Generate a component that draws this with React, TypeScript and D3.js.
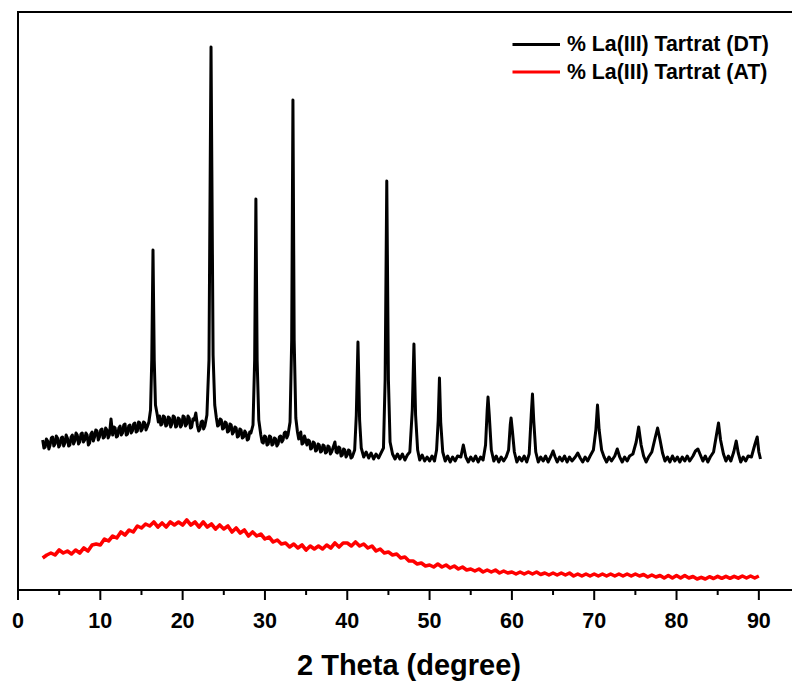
import React from "react";
import * as d3 from "d3";

// 2θ (degree), intensity (a.u.)
const dtPattern: [number, number][] = [
  [3.0,150],[3.15,142],[3.3,143],[3.45,151],[3.6,149],[3.75,141],[3.9,145],[4.05,152],[4.2,153],[4.35,144],[4.5,146],[4.65,154],[4.8,152],[4.95,143],[5.1,145],[5.25,152],[5.4,153],[5.55,144],[5.7,147],
  [5.85,155],[6.0,152],[6.15,144],[6.3,145],[6.45,153],[6.6,155],[6.75,146],[6.9,149],[7.05,157],[7.2,155],[7.35,146],[7.5,148],[7.65,156],[7.8,157],[7.95,148],[8.1,150],[8.25,157],[8.4,155],[8.55,145],[8.7,147],
  [8.85,156],[9.0,158],[9.15,149],[9.3,153],[9.45,160],[9.6,159],[9.75,150],[9.9,153],[10.05,160],[10.2,161],[10.35,152],[10.5,153],[10.65,162],[10.8,160],[10.95,152],[11.1,155],[11.3,171],[11.5,155],
  [11.65,163],[11.8,162],[11.95,153],[12.1,154],[12.25,162],[12.4,164],[12.55,155],[12.7,157],[12.85,165],[13.0,166],[13.15,155],[13.3,156],[13.45,164],[13.6,165],[13.75,157],[13.9,159],[14.05,166],[14.2,167],[14.35,158],[14.5,159],
  [14.65,168],[14.8,167],[14.95,159],[15.1,161],[15.25,168],[15.4,167],[15.55,160],[15.7,163],[15.9,168],[16.1,180],[16.25,230],[16.4,340],[16.55,230],[16.7,185],
  [16.9,176],[17.05,168],[17.2,174],[17.35,165],[17.5,166],[17.65,174],[17.8,173],[17.95,164],[18.1,165],[18.25,173],[18.4,172],[18.55,163],[18.7,166],[18.85,174],[19.0,173],[19.15,163],[19.3,164],[19.45,172],[19.6,171],
  [19.75,163],[19.9,165],[20.05,174],[20.2,173],[20.35,164],[20.5,166],[20.65,174],[20.8,172],[20.95,162],[21.1,163],[21.25,171],[21.4,170],[21.6,177],[21.8,164],[21.95,159],[22.1,161],[22.25,168],[22.4,169],
  [22.55,161],[22.7,164],[22.95,175],[23.2,230],[23.35,420],[23.45,543],[23.55,420],[23.7,235],[23.9,185],[24.1,172],[24.25,164],[24.4,165],
  [24.55,171],[24.7,170],[24.85,161],[25.0,162],[25.15,168],[25.3,167],[25.45,158],[25.6,159],[25.75,166],[25.9,165],[26.05,156],[26.2,158],[26.35,163],[26.5,162],[26.65,153],[26.8,154],[26.95,161],[27.1,160],[27.25,152],[27.4,153],
  [27.55,159],[27.7,157],[27.85,150],[28.0,151],[28.15,158],[28.3,157],[28.55,165],[28.75,230],[28.9,391],[29.05,230],[29.25,170],[29.5,155],[29.65,148],[29.8,147],
  [29.95,154],[30.1,153],[30.25,145],[30.4,146],[30.55,154],[30.7,153],[30.85,145],[31.0,146],[31.15,152],[31.3,151],[31.45,144],[31.6,146],[31.75,153],[31.9,154],[32.05,148],[32.2,150],[32.35,157],[32.5,158],[32.65,152],[32.8,155],
  [33.05,168],[33.25,250],[33.4,490],[33.55,250],[33.75,172],[33.95,158],[34.1,151],[34.2,155],[34.35,158],[34.5,146],[34.65,147],[34.8,154],[34.95,150],[35.1,145],
  [35.25,150],[35.4,149],[35.55,141],[35.7,142],[35.85,148],[36.0,147],[36.15,139],[36.3,140],[36.45,146],[36.6,145],[36.75,138],[36.9,139],[37.05,145],[37.2,144],[37.35,137],[37.5,138],[37.65,144],[37.8,143],[37.95,136],[38.1,138],
  [38.5,148],[38.65,138],[38.8,137],[38.95,143],[39.1,142],[39.25,134],[39.4,135],[39.55,141],[39.7,140],[39.85,133],[40.0,135],[40.15,140],[40.3,139],[40.45,132],[40.6,133],[40.9,140],[41.1,175],
  [41.3,248],[41.5,170],[41.7,142],[42.0,133],[42.3,138],[42.6,132],[42.9,137],[43.2,131],[43.5,136],[43.8,132],
  [44.1,137],[44.4,142],[44.6,210],[44.8,409],[45.0,210],[45.2,148],[45.5,136],[45.8,131],[46.1,136],[46.4,131],
  [46.7,136],[47.0,130],[47.3,135],[47.6,138],[47.9,180],[48.1,246],[48.3,175],[48.55,140],[48.8,130],[49.1,135],
  [49.4,129],[49.7,133],[50.0,129],[50.3,134],[50.6,129],[50.85,140],[51.05,170],[51.2,212],[51.35,168],[51.6,138],
  [51.9,129],[52.2,134],[52.5,128],[52.8,133],[53.1,129],[53.4,134],[53.8,133],[54.1,145],[54.4,133],[54.7,128],
  [55.0,133],[55.3,129],[55.6,134],[55.9,128],[56.2,133],[56.5,130],[56.8,145],[57.0,180],[57.1,193],[57.25,175],
  [57.5,140],[57.8,129],[58.1,134],[58.4,128],[58.7,133],[59.0,129],[59.3,133],[59.6,140],[59.8,165],[59.9,172],
  [60.05,160],[60.3,138],[60.6,128],[60.9,133],[61.2,129],[61.5,134],[61.8,128],[62.1,136],[62.35,175],[62.5,196],
  [62.65,170],[62.9,138],[63.2,128],[63.5,133],[63.8,129],[64.1,134],[64.4,128],[64.75,134],[65.0,139],[65.25,133],
  [65.5,128],[65.8,133],[66.1,129],[66.4,134],[66.7,128],[67.0,133],[67.3,129],[67.7,133],[68.0,137],[68.3,132],
  [68.6,128],[68.9,133],[69.2,129],[69.5,134],[69.9,140],[70.2,160],[70.4,185],[70.6,160],[70.9,140],[71.2,133],
  [71.5,128],[71.8,133],[72.1,129],[72.5,134],[72.8,141],[73.1,133],[73.4,128],[73.7,133],[74.0,129],[74.3,134],
  [74.7,136],[75.1,148],[75.4,163],[75.7,145],[76.0,134],[76.3,128],[76.6,133],[77.0,138],[77.4,152],[77.7,162],
  [78.0,150],[78.3,137],[78.6,129],[78.9,133],[79.2,128],[79.5,134],[79.8,129],[80.1,133],[80.4,128],[80.7,133],
  [81.0,129],[81.3,134],[81.6,129],[82.0,134],[82.3,139],[82.6,141],[82.9,135],[83.2,129],[83.5,134],[83.8,128],
  [84.1,133],[84.5,138],[84.85,155],[85.1,167],[85.35,150],[85.7,136],[86.0,129],[86.3,134],[86.6,129],[86.95,138],
  [87.25,149],[87.5,137],[87.8,128],[88.1,133],[88.4,129],[88.7,134],[89.1,133],[89.5,145],[89.8,153],[90.0,138],
  [90.2,131],
];

const atPattern: [number, number][] = [
  [3.0,32],[3.5,35],[4.0,37],[4.5,35],[5.0,40],[5.5,37],[6.0,39],[6.5,36],[7.0,40],[7.5,37],
  [8.0,42],[8.5,39],[9.0,45],[9.5,46],[10.0,45],[10.5,51],[11.0,49],[11.5,54],[12.0,52],[12.5,58],
  [13.0,55],[13.5,60],[14.0,58],[14.5,64],[15.0,62],[15.5,66],[16.0,64],[16.5,68],[17.0,63],[17.5,67],
  [18.0,63],[18.5,68],[19.0,65],[19.5,68],[20.0,65],[20.5,70],[21.0,65],[21.5,68],[22.0,63],[22.5,68],
  [23.0,63],[23.5,66],[24.0,61],[24.5,65],[25.0,61],[25.5,64],[26.0,58],[26.5,62],[27.0,57],[27.5,60],
  [28.0,54],[28.5,58],[29.0,54],[29.5,56],[30.0,51],[30.5,53],[31.0,48],[31.5,50],[32.0,46],[32.5,47],
  [33.0,43],[33.5,46],[34.0,42],[34.5,45],[35.0,40],[35.5,44],[36.0,41],[36.5,44],[37.0,41],[37.5,45],
  [38.0,42],[38.5,47],[39.0,43],[39.5,47],[40.0,47],[40.5,44],[41.0,48],[41.5,44],[42.0,46],[42.5,42],
  [43.0,44],[43.5,39],[44.0,41],[44.5,37],[45.0,38],[45.5,35],[46.0,36],[46.5,32],[47.0,33],[47.5,29],
  [48.0,29],[48.5,26],[49.0,27],[49.5,24],[50.0,25],[50.5,23],[51.0,26],[51.5,23],[52.0,25],[52.5,22],
  [53.0,24],[53.5,21],[54.0,23],[54.5,20],[55.0,21],[55.5,19],[56.0,21],[56.5,18],[57.0,20],[57.5,18],
  [58.0,20],[58.5,17],[59.0,19],[59.5,17],[60.0,18],[60.5,16],[61.0,18],[61.5,16],[62.0,18],[62.5,16],
  [63.0,18],[63.5,15.5],[64.0,17],[64.5,15],[65.0,17],[65.5,15],[66.0,17],[66.5,15],[67.0,17],[67.5,14],
  [68.0,16],[68.5,14],[69.0,16],[69.5,14],[70.0,16],[70.5,14],[71.0,16],[71.5,14],[72.0,16],[72.5,14],
  [73.0,16],[73.5,14],[74.0,16],[74.5,14],[75.0,16],[75.5,14],[76.0,15.5],[76.5,13],[77.0,15],[77.5,13],
  [78.0,14.5],[78.5,12],[79.0,14.5],[79.5,12],[80.0,14.5],[80.5,12],[81.0,14.5],[81.5,12],[82.0,13.5],[82.5,11],
  [83.0,12.7],[83.5,11],[84.0,13.3],[84.5,11.5],[85.0,13.7],[85.5,11.7],[86.0,13.7],[86.5,11.7],[87.0,13.7],[87.5,11.8],
  [88.0,14],[88.5,12],[89.0,14],[89.5,12],[90.0,14],
];

const majorTicks = [0, 10, 20, 30, 40, 50, 60, 70, 80, 90];
const minorTicks = [5, 15, 25, 35, 45, 55, 65, 75, 85];
const legendLabels = ["% La(III) Tartrat (DT)", "% La(III) Tartrat (AT)"];
const seriesColors = ["#000000", "#ff0000"];
const seriesWidths = [3.0, 3.6];
const xTitle = "2 Theta (degree)";

const FONT = "'Liberation Sans', Arial, Helvetica, sans-serif";

export default function App() {
  const W = 792;
  const H = 681;
  const x = d3.scaleLinear().domain([0, 95]).range([18, 800]);
  const y = d3.scaleLinear().domain([0, 578]).range([590, 12]);
  const line = d3
    .line<[number, number]>()
    .x((d) => x(d[0]))
    .y((d) => y(d[1]));

  const series = [dtPattern, atPattern];

  return (
    <svg
      width={W}
      height={H}
      style={{ position: "absolute", left: 0, top: 0, display: "block", background: "#fff" }}
    >
      <rect x={0} y={0} width={W} height={H} fill="#fff" />
      {/* data */}
      {series.map((s, i) => (
        <path
          key={i}
          d={line(s) || ""}
          fill="none"
          stroke={seriesColors[i]}
          strokeWidth={seriesWidths[i]}
          strokeLinejoin="round"
        />
      ))}
      {/* frame */}
      <line x1={x(0)} x2={x(0)} y1={y(578)} y2={y(0)} stroke="#000" strokeWidth={2} />
      <line x1={x(0) - 1} x2={W + 10} y1={y(578)} y2={y(578)} stroke="#000" strokeWidth={2} />
      <line x1={x(0) - 1} x2={W + 10} y1={y(0)} y2={y(0)} stroke="#000" strokeWidth={2} />
      {/* ticks */}
      {majorTicks.map((t) => (
        <g key={"M" + t}>
          <line x1={x(t)} x2={x(t)} y1={y(0)} y2={y(0) + 10} stroke="#000" strokeWidth={2} />
          <text
            x={x(t)}
            y={628}
            textAnchor="middle"
            fontFamily={FONT}
            fontWeight="bold"
            fontSize={21.5}
            fill="#000"
          >
            {t}
          </text>
        </g>
      ))}
      {minorTicks.map((t) => (
        <line key={"m" + t} x1={x(t)} x2={x(t)} y1={y(0)} y2={y(0) + 5} stroke="#000" strokeWidth={2} />
      ))}
      <text
        x={(x(0) + x(95)) / 2}
        y={675}
        textAnchor="middle"
        fontFamily={FONT}
        fontWeight="bold"
        fontSize={29}
        fill="#000"
      >
        {xTitle}
      </text>
      {/* legend */}
      {legendLabels.map((lab, i) => (
        <g key={lab}>
          <line
            x1={512.5}
            x2={560}
            y1={44.5 + i * 27.5}
            y2={44.5 + i * 27.5}
            stroke={seriesColors[i]}
            strokeWidth={2.8}
          />
          <text
            x={567}
            y={51 + i * 27.5}
            fontFamily={FONT}
            fontWeight="bold"
            fontSize={21.3}
            fill="#000"
          >
            {lab}
          </text>
        </g>
      ))}
    </svg>
  );
}
